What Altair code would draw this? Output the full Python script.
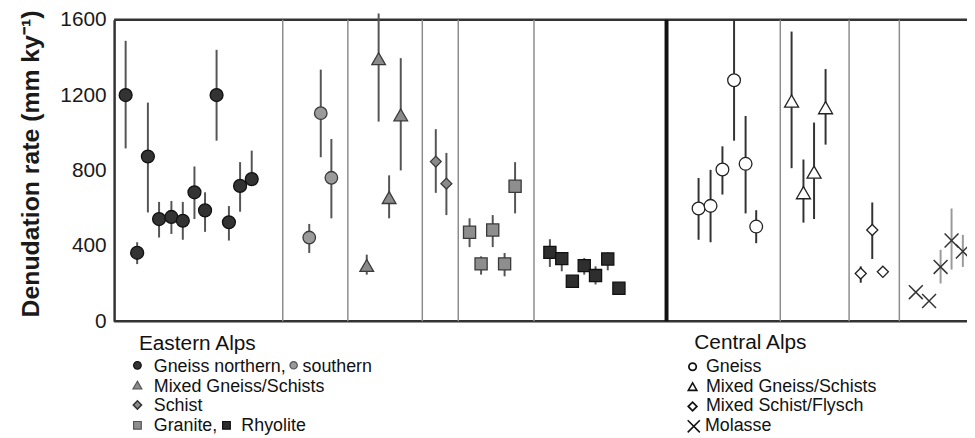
import altair as alt
import pandas as pd

FONT = "Liberation Sans"

# ---------------- data (x = sample slot along the profile) ----------------
# Eastern Alps – Gneiss northern (dark circles)
ngn_x = [1.0, 2.0, 2.93, 3.9, 4.97, 5.96, 6.97, 7.89, 8.89, 9.96, 10.93, 11.94]
ngn_y = [1200, 363, 874, 542, 553, 533, 684, 588, 1200, 525, 718, 754]
ngn_lo = [917, 303, 577, 444, 463, 432, 542, 474, 958, 428, 581, 730]
ngn_hi = [1488, 419, 1160, 633, 638, 633, 821, 684, 1440, 611, 844, 905]

# Eastern Alps – Gneiss southern (grey circles)
sgn_x = [16.93, 17.93, 18.85]
sgn_y = [444, 1104, 761]
sgn_lo = [362, 870, 546]
sgn_hi = [516, 1335, 967]

# Eastern Alps – Mixed Gneiss/Schists (grey triangles)
emx_x = [21.92, 22.95, 23.86, 24.87]
emx_y = [296, 1393, 656, 1095]
emx_lo = [247, 1059, 546, 800]
emx_hi = [353, 1633, 774, 1396]

# Eastern Alps – Schist (grey diamonds)
sch_x = [27.91, 28.83]
sch_y = [847, 730]
sch_lo = [681, 563]
sch_hi = [1019, 893]

# Eastern Alps – Granite (grey squares)
gra_x = [30.84, 31.84, 32.85, 33.88, 34.79]
gra_y = [472, 304, 484, 304, 716]
gra_lo = [393, 247, 393, 238, 572]
gra_hi = [546, 344, 563, 362, 844]

# Eastern Alps – Rhyolite (dark squares)
rhy_x = [37.81, 38.84, 39.76, 40.79, 41.77, 42.83, 43.8]
rhy_y = [365, 332, 212, 295, 242, 330, 175]
rhy_lo = [288, 265, 183, 247, 195, 270, 175]
rhy_hi = [435, 363, 238, 335, 291, 365, 175]

# Central Alps – Gneiss (open circles)
cgn_x = [50.71, 51.75, 52.78, 53.79, 54.79, 55.71]
cgn_y = [598, 612, 805, 1279, 835, 502]
cgn_lo = [432, 419, 672, 958, 572, 414]
cgn_hi = [760, 803, 928, 1600, 1089, 589]

# Central Alps – Mixed Gneiss/Schists (open triangles)
cmx_x = [58.78, 59.81, 60.73, 61.73]
cmx_y = [1168, 682, 791, 1133]
cmx_lo = [812, 523, 542, 937]
cmx_hi = [1537, 858, 1054, 1338]

# Central Alps – Mixed Schist/Flysch (open diamonds)
fly_x = [64.78, 65.78, 66.7]
fly_y = [253, 484, 262]
fly_lo = [204, 330, 262]
fly_hi = [291, 630, 262]

# Central Alps – Molasse (crosses)
mol_x = [69.56, 70.71, 71.71, 72.66, 73.64]
mol_y = [154, 107, 288, 428, 370]
mol_lo = [154, 107, 200, 274, 288]
mol_hi = [154, 107, 379, 598, 458]

# group separators (slot positions) and the East/Central divide
sep_x = [14.63, 20.28, 26.74, 29.86, 36.43, 57.8, 63.77, 68.13]
divide_x = [47.93]

y_ticks = [0, 400, 800, 1200, 1600]
X_MIN, X_MAX = 0, 74
Y_MIN, Y_MAX = 0, 1600

# ---------------- styling ----------------
W, H = 860, 304
xs = alt.Scale(domain=[X_MIN, X_MAX], nice=False, zero=False)
ys = alt.Scale(domain=[Y_MIN, Y_MAX], nice=False, zero=True)

XSHAPE = "M-1,-1L1,1M-1,1L1,-1"


def frame(x, y, lo, hi):
    return pd.DataFrame({"x": x, "y": y, "lo": lo, "hi": hi})


series = [
    (ngn_x, ngn_y, ngn_lo, ngn_hi, "circle", "#333333", "#111111", 170, "#555555"),
    (sgn_x, sgn_y, sgn_lo, sgn_hi, "circle", "#9a9a9a", "#3a3a3a", 160, "#555555"),
    (emx_x, emx_y, emx_lo, emx_hi, "triangle-up", "#8a8a8a", "#3a3a3a", 190, "#555555"),
    (sch_x, sch_y, sch_lo, sch_hi, "diamond", "#8a8a8a", "#3a3a3a", 120, "#555555"),
    (gra_x, gra_y, gra_lo, gra_hi, "square", "#8e8e8e", "#3a3a3a", 150, "#555555"),
    (rhy_x, rhy_y, rhy_lo, rhy_hi, "square", "#2e2e2e", "#111111", 150, "#555555"),
    (cgn_x, cgn_y, cgn_lo, cgn_hi, "circle", "#ffffff", "#222222", 165, "#333333"),
    (cmx_x, cmx_y, cmx_lo, cmx_hi, "triangle-up", "#ffffff", "#222222", 200, "#333333"),
    (fly_x, fly_y, fly_lo, fly_hi, "diamond", "#ffffff", "#222222", 125, "#333333"),
]

yaxis = alt.Axis(
    values=y_ticks,
    format="d",
    title="Denudation rate (mm ky⁻¹)",
    titleFont=FONT,
    titleFontSize=25,
    titleFontWeight="bold",
    titleColor="#1a1a1a",
    titleAngle=-90,
    titleAlign="center",
    titleBaseline="middle",
    titleX=-84,
    titleY=145,
    labelFont=FONT,
    labelFontSize=21,
    labelColor="#1a1a1a",
    labelPadding=8,
    labelFlush=False,
    ticks=False,
    grid=False,
    domainColor="#333333",
    domainWidth=2.5,
)

layers = []

# top / bottom frame (carries the y axis)
frame_df = pd.DataFrame({"v": [Y_MIN, Y_MAX], "a": [X_MIN, X_MIN], "b": [X_MAX, X_MAX]})
layers.append(
    alt.Chart(frame_df)
    .mark_rule(color="#333333", strokeWidth=2.5)
    .encode(
        y=alt.Y("v:Q", scale=ys, axis=yaxis),
        x=alt.X("a:Q", scale=xs, axis=None),
        x2="b:Q",
    )
)

# separators
sep_df = pd.DataFrame({"x": sep_x, "lo": Y_MIN, "hi": Y_MAX})
layers.append(
    alt.Chart(sep_df)
    .mark_rule(color="#8c8c8c", strokeWidth=1.5)
    .encode(x=alt.X("x:Q", scale=xs, axis=None), y=alt.Y("lo:Q", scale=ys), y2="hi:Q")
)
div_df = pd.DataFrame({"x": divide_x, "lo": Y_MIN, "hi": Y_MAX})
layers.append(
    alt.Chart(div_df)
    .mark_rule(color="#111111", strokeWidth=4)
    .encode(x=alt.X("x:Q", scale=xs, axis=None), y=alt.Y("lo:Q", scale=ys), y2="hi:Q")
)

# error bars
for (x, y, lo, hi, shape, fill, stroke, size, bc) in series:
    layers.append(
        alt.Chart(frame(x, y, lo, hi))
        .mark_rule(color=bc, strokeWidth=2)
        .encode(x=alt.X("x:Q", scale=xs, axis=None), y=alt.Y("lo:Q", scale=ys), y2="hi:Q")
    )
layers.append(
    alt.Chart(frame(mol_x, mol_y, mol_lo, mol_hi))
    .mark_rule(color="#9a9a9a", strokeWidth=2)
    .encode(x=alt.X("x:Q", scale=xs, axis=None), y=alt.Y("lo:Q", scale=ys), y2="hi:Q")
)

# markers
for (x, y, lo, hi, shape, fill, stroke, size, bc) in series:
    layers.append(
        alt.Chart(frame(x, y, lo, hi))
        .mark_point(shape=shape, filled=True, fill=fill, stroke=stroke,
                    strokeWidth=1.3, size=size, opacity=1)
        .encode(x=alt.X("x:Q", scale=xs, axis=None), y=alt.Y("y:Q", scale=ys))
    )
layers.append(
    alt.Chart(frame(mol_x, mol_y, mol_lo, mol_hi))
    .mark_point(shape=XSHAPE, filled=False, stroke="#333333", strokeWidth=1.5,
                size=196, opacity=1)
    .encode(x=alt.X("x:Q", scale=xs, axis=None), y=alt.Y("y:Q", scale=ys))
)


# ---------------- legend (text + symbols below the plot) ----------------
def txt(s, x, y, size=18, weight="normal"):
    return (
        alt.Chart(pd.DataFrame({"t": [s]}))
        .mark_text(align="left", baseline="alphabetic", fontSize=size, font=FONT,
                   fontWeight=weight, color="#111111")
        .encode(x=alt.value(x), y=alt.value(y), text="t:N")
    )


def sym(shape, x, y, size, fill, stroke, sw=1.2, filled=True):
    return (
        alt.Chart(pd.DataFrame({"a": [0]}))
        .mark_point(shape=shape, filled=filled, fill=fill, stroke=stroke,
                    strokeWidth=sw, size=size, opacity=1)
        .encode(x=alt.value(x), y=alt.value(y))
    )


legend = [
    txt("Eastern Alps", 25, 333, size=21),
    sym("circle", 23.5, 348.5, 60, "#333333", "#111111"),
    txt("Gneiss northern,", 40, 355),
    sym("circle", 181, 348.5, 55, "#9a9a9a", "#555555"),
    txt("southern", 190, 355),
    sym("triangle-up", 23.5, 368.5, 80, "#8a8a8a", "#555555"),
    txt("Mixed Gneiss/Schists", 40, 375),
    sym("diamond", 23.5, 388.5, 70, "#8a8a8a", "#333333", 1.5),
    txt("Schist", 40, 395),
    sym("square", 23.5, 409, 60, "#8e8e8e", "#555555"),
    txt("Granite,", 40, 415),
    sym("square", 113.3, 409, 60, "#2e2e2e", "#111111"),
    txt("Rhyolite", 128.3, 415),
    txt("Central Alps", 585, 332, size=21),
    sym("circle", 583.3, 350, 55, "#ffffff", "#111111", 1.8),
    txt("Gneiss", 596.7, 355),
    sym("triangle-up", 583.3, 370, 75, "#ffffff", "#111111", 1.6),
    txt("Mixed Gneiss/Schists", 596.7, 375),
    sym("diamond", 583.3, 390, 75, "#ffffff", "#111111", 1.8),
    txt("Mixed Schist/Flysch", 596.7, 395),
    sym(XSHAPE, 584.5, 410, 150, "#ffffff", "#111111", 1.6, filled=False),
    txt("Molasse", 595.7, 415),
]

chart = (
    alt.layer(*layers, *legend)
    .properties(
        width=W,
        height=H,
        autosize=alt.AutoSizeParams(type="none"),
        padding={"left": 107, "top": 10, "right": 0, "bottom": 116},
        background="white",
    )
    .configure_view(stroke=None)
)

chart.save("out.html", embed_options={"renderer": "svg", "actions": False})
